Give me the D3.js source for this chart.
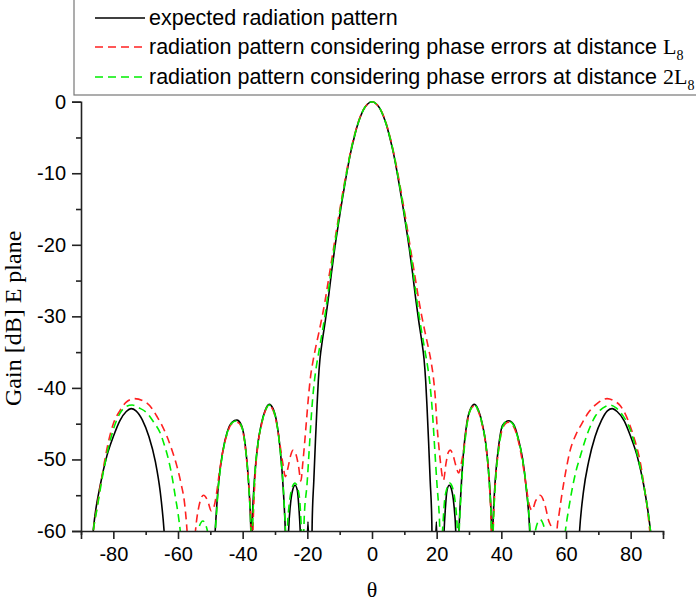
<!DOCTYPE html>
<html>
<head>
<meta charset="utf-8">
<script src="https://cdn.jsdelivr.net/npm/d3@7"></script>
<style>
  html, body { margin: 0; padding: 0; background: #fff; }
  svg { display: block; }
</style>
</head>
<body>
<svg id="chart" width="696" height="601"></svg>
<script>
// ---------------- data ----------------
const xTicksMajor = [-80, -60, -40, -20, 0, 20, 40, 60, 80];
const xTicksMinor = [-90, -70, -50, -30, -10, 10, 30, 50, 70, 90];
const yTicksMajor = [-60, -50, -40, -30, -20, -10, 0];
const yTicksMinor = [-55, -45, -35, -25, -15, -5];

const seriesNames = [
  "expected radiation pattern",
  "radiation pattern considering phase errors at distance ",
  "radiation pattern considering phase errors at distance "
];
const seriesSuffix = ["", "L", "2L"];

// [theta (deg), gain (dB)]
const expected = [
  [-87,-64],[-86,-59],[-84,-53.5],[-82,-49.5],[-80,-46.8],[-78,-44.6],[-76,-43.3],[-74.5,-42.9],[-73,-43.2],[-71,-44.5],
  [-69,-46.8],[-67,-50.3],[-65.5,-54.5],[-64.3,-60],[-63.5,-66],[-56,-85],
  [-49.2,-66],[-48.5,-60],[-47.5,-53.5],[-46.2,-49],[-44.8,-46.2],[-43.3,-44.8],[-41.8,-44.5],[-40.4,-45.2],[-39.2,-48],
  [-38.2,-53],[-37.6,-58],[-37.3,-62],[-36.9,-57],[-36.3,-52.5],[-35.3,-47.8],[-34.2,-45],[-33,-43.1],[-31.8,-42.3],
  [-30.6,-42.9],[-29.4,-45],[-28.3,-49],[-27.4,-54.5],[-26.8,-60],[-26.3,-68],[-25.8,-60],[-25.2,-56.2],[-24.5,-54.2],
  [-23.8,-53.6],[-23.1,-54.3],[-22.6,-56.8],[-22.2,-60],[-21.7,-68],[-20.4,-66],[-19.8,-58.7],[-19.3,-66],[-18.9,-72],
  [-18.5,-58.8],[-18,-53],[-17.5,-47.5],[-17,-42.5],[-16.6,-39],[-16.1,-36],[-15.3,-33.2],[-14.4,-30.5],[-13.5,-27.5],
  [-12.5,-23.8],[-11.5,-20.4],[-10.5,-17.4],[-9.5,-14.5],[-8.5,-11.8],[-7.5,-9.2],[-6.5,-6.9],[-5.5,-5],[-4.5,-3.3],
  [-3.5,-2],[-2.5,-1],[-1.5,-0.4],[-0.7,-0.1],[0,0],
  [0.7,-0.1],[1.5,-0.4],[2.5,-1],[3.5,-2],[4.5,-3.3],[5.5,-5],[6.5,-6.9],[7.5,-9.2],[8.5,-11.8],[9.5,-14.5],[10.5,-17.4],
  [11.5,-20.4],[12.5,-23.8],[13.5,-27.5],[14.4,-30.5],[15.3,-33.2],[16.1,-36],[16.6,-39],[17,-42.5],[17.5,-47.5],[18,-53],
  [18.5,-58.8],[18.9,-72],[19.4,-66],[19.9,-58.7],
  [20.4,-66],[21.8,-68],[22.3,-60],[22.7,-56.8],[23.2,-54.3],[23.9,-53.6],[24.6,-54.2],[25.3,-56.2],[25.9,-60],[26.4,-68],
  [26.9,-60],[27.5,-54.5],[28.3,-49],[29.3,-45],[30.5,-42.9],[31.7,-42.3],[32.9,-43.1],[34.1,-45],[35.2,-47.8],[36.2,-52.5],
  [36.8,-57],[37.2,-62],[37.5,-58],[38.1,-53],[39.2,-48],[40.4,-45.2],[42.3,-44.6],[43.8,-45.1],[45.2,-47],[46.6,-50],
  [47.7,-54],[48.6,-58.5],[49,-62],[56,-85],[63.5,-66],[64.2,-60],[65.4,-54.5],[67,-50.3],[69,-46.8],[71,-44.5],[72.8,-43.2],
  [74.3,-42.9],[75.8,-43.3],[78,-44.6],[80,-46.8],[82,-49.5],[84,-53.5],[86,-59.5],[87,-64]
];

const errorsL8 = [
  [-87,-63.5],[-86.2,-60],[-85,-56.5],[-83,-51],[-81.5,-47.5],[-80,-45],[-78,-43.2],[-76,-42],[-73.5,-41.5],[-70,-42],
  [-68,-42.9],[-66.5,-44],[-65,-45.2],[-63.4,-46.8],[-61.8,-48.8],[-60.3,-51],[-59,-53.5],[-58,-56],[-57.2,-60],[-56.3,-68],
  [-55.4,-65],[-54.6,-60],[-53.5,-56.5],[-52.1,-55],[-50.8,-55.8],[-49.7,-57.2],[-48.8,-56.5],[-48,-54.5],[-47.2,-51.8],
  [-46.2,-49],[-44.8,-46.4],[-43.3,-45],[-41.8,-44.8],[-40.4,-45.4],[-39.2,-48.2],[-38.2,-53.2],[-37.5,-58],[-37.1,-64],
  [-36.7,-58],[-36.2,-52.8],[-35.3,-48],[-34.2,-45.2],[-33,-43.2],[-31.8,-42.5],[-30.6,-43.1],[-29.5,-45],[-28.5,-47.8],
  [-27.6,-50.5],[-26.8,-52.4],[-26,-51.2],[-25.2,-49.5],[-24.4,-48.7],[-23.5,-49.3],[-22.7,-51],[-22,-53],[-21.4,-50.5],
  [-20.8,-47.5],[-20.2,-44.2],[-19.6,-41],[-19,-38.4],[-18.3,-36.4],[-17.4,-34.3],[-16.4,-32.2],[-15.4,-30],[-14.5,-27.8],
  [-13.5,-25],[-12.5,-22.2],[-11.5,-19.4],[-10.5,-16.6],[-9.5,-13.9],[-8.5,-11.3],[-7.5,-8.9],[-6.5,-6.7],[-5.5,-4.8],
  [-4.5,-3.2],[-3.5,-1.9],[-2.5,-1],[-1.5,-0.4],[-0.7,-0.1],[0,0],
  [0.7,-0.1],[1.5,-0.4],[2.5,-1],[3.5,-1.9],[4.5,-3.2],[5.5,-4.8],[6.5,-6.7],[7.5,-8.9],[8.5,-11.3],[9.5,-13.9],[10.5,-16.6],
  [11.5,-19.4],[12.5,-22.2],[13.5,-25],[14.5,-27.8],[15.4,-30],[16.4,-32.2],[17.4,-34.3],[18.3,-36.4],[19,-38.6],[19.6,-41.5],
  [20.1,-45.2],[20.6,-47.8],[21.1,-50.1],[22.1,-52.9],
  [22.9,-50.5],[23.6,-49],[24.2,-48.7],[25,-49.3],[25.9,-50.8],[26.8,-51.9],[27.6,-50.6],[28.4,-48.5],[29.3,-45.2],[30.5,-43],
  [31.7,-42.5],[32.9,-43.3],[34.1,-45.2],[35.2,-48],[36.2,-52.8],[36.8,-58],[37.2,-64],[37.6,-58],[38.2,-53],[39.3,-48.2],
  [40.5,-45.5],[42.2,-44.8],[43.9,-45.5],[45.3,-47.5],[46.6,-50.5],[47.7,-53.8],[48.6,-56.3],[49.5,-57.1],[50.6,-55.8],
  [52,-55],[53.4,-56.2],[54.6,-58.5],[55.7,-60],[56.5,-68],[57.2,-60],[57.9,-57.5],[58.8,-54.7],[60,-51.5],[61.3,-48.7],
  [63,-46.6],[64.9,-45],[67,-43.4],[69.6,-42.2],[72.7,-41.5],[74.8,-41.8],[76.8,-42.5],[78.5,-43.8],[79.9,-45.4],[81.2,-47.2],
  [82.4,-49.2],[83.3,-51.2],[84,-53.3],[85,-56.3],[85.8,-59.5],[86.5,-63]
];

const errors2L8 = [
  [-87,-63.5],[-86.2,-60],[-85,-56.8],[-83,-51.5],[-81.5,-48.3],[-80,-45.8],[-78,-43.6],[-76,-42.6],[-74.2,-42.4],[-72,-42.8],
  [-69.6,-43.5],[-67.5,-44.8],[-65.5,-46.3],[-64.2,-48],[-62.9,-50.1],[-61.8,-52.5],[-60.8,-55.3],[-60,-57.5],[-59.3,-60],
  [-58.5,-64],[-56.5,-72],[-54.6,-64],[-53.8,-60],[-52.3,-58.6],[-50.9,-60],[-50,-63],[-49.2,-62],[-48.5,-60],[-47.5,-53.8],
  [-46.2,-49.2],[-44.8,-46.3],[-43.3,-44.9],[-41.8,-44.6],[-40.4,-45.3],[-39.2,-48.1],[-38.2,-53.1],[-37.6,-58],[-37.2,-63],
  [-36.8,-57.5],[-36.3,-52.6],[-35.3,-47.9],[-34.2,-45.1],[-33,-43.2],[-31.8,-42.4],[-30.6,-43],[-29.4,-45.1],[-28.3,-49.2],
  [-27.4,-54.2],[-26.9,-58.5],[-26.5,-62],[-26,-58.2],[-25.4,-55.5],[-24.6,-53.8],[-23.8,-53.3],[-23,-54],[-22.3,-56],
  [-21.8,-60],[-21.4,-63],[-20.9,-57.5],[-20.1,-53.5],[-19.4,-48.5],[-18.7,-43.5],[-18,-39.8],[-17.2,-37],[-16.3,-34.6],
  [-15.3,-32],[-14.4,-29.4],[-13.5,-26.5],[-12.5,-23],[-11.5,-19.9],[-10.5,-17],[-9.5,-14.2],[-8.5,-11.6],[-7.5,-9.1],
  [-6.5,-6.8],[-5.5,-4.9],[-4.5,-3.3],[-3.5,-2],[-2.5,-1],[-1.5,-0.4],[-0.7,-0.1],[0,0],
  [0.7,-0.1],[1.5,-0.4],[2.5,-1],[3.5,-2],[4.5,-3.3],[5.5,-4.9],[6.5,-6.8],[7.5,-9.1],[8.5,-11.6],[9.5,-14.2],[10.5,-17],
  [11.5,-19.9],[12.5,-23],[13.5,-26.5],[14.4,-29.4],[15.3,-32],[16.3,-34.6],[17.2,-37],[18,-39.8],[18.7,-43.5],[19.4,-48.5],
  [20.1,-53.5],[20.8,-57.8],
  [21.3,-63],[21.8,-60],[22.4,-56],[23.2,-54],[24,-53.3],[24.8,-53.8],[25.6,-55.5],[26.2,-58.2],[26.7,-62],[27.1,-58.5],
  [27.6,-54.2],[28.4,-49.2],[29.4,-45.1],[30.5,-43],[31.7,-42.4],[32.9,-43.2],[34.1,-45.1],[35.2,-47.9],[36.2,-52.6],
  [36.8,-57.5],[37.2,-63],[37.6,-58],[38.2,-53.1],[39.3,-48.1],[40.5,-45.3],[42,-44.6],[43.5,-45],[45,-46.8],[46.5,-49.8],
  [47.7,-53.8],[48.5,-57.5],[48.9,-60],[49.5,-63],[50.5,-60],[52,-58.4],[53.5,-60],[54.5,-64],[56.8,-72],[58.9,-64],
  [59.8,-60],[60.8,-57],[61.8,-54.4],[63,-51.8],[64.4,-49.6],[66,-47.2],[67.5,-45.4],[69,-44],[70.6,-43.1],[72.2,-42.6],
  [73.7,-42.4],[75.5,-42.8],[77.5,-43.8],[80,-46],[82,-49.2],[84,-53.5],[86,-59.5],[86.8,-63]
];

// ---------------- chart ----------------
const svg = d3.select("#chart");
const SANS = "'Liberation Sans', Arial, Helvetica, sans-serif";
const SERIF = "'Liberation Serif', 'Times New Roman', Times, serif";

const x = d3.scaleLinear().domain([-90, 90]).range([81, 663]);
const y = d3.scaleLinear().domain([-60, 0]).range([531, 101.7]);

svg.append("defs").append("clipPath").attr("id", "plotclip")
  .append("rect").attr("x", 70).attr("y", 96).attr("width", 610).attr("height", 531 - 96);

const line = d3.line().x(d => x(d[0])).y(d => y(d[1])).curve(d3.curveMonotoneX);

const styles = [
  { data: expected, color: "#000000", dash: null },
  { data: errorsL8, color: "#ff2020", dash: "8,5" },
  { data: errors2L8, color: "#00ee00", dash: "8,5" }
];

const plot = svg.append("g").attr("clip-path", "url(#plotclip)");
styles.forEach(s => {
  plot.append("path").datum(s.data)
    .attr("d", line)
    .attr("fill", "none")
    .attr("stroke", s.color)
    .attr("stroke-width", 1.6)
    .attr("stroke-dasharray", s.dash);
});

// axes
const axisColor = "#222";
const fmt = d => String(d);
const xAxis = svg.append("g").attr("transform", `translate(0,${y(-60)})`)
  .call(d3.axisBottom(x).tickValues(xTicksMajor).tickSize(8).tickPadding(8).tickFormat(fmt));
const xMinor = svg.append("g").attr("transform", `translate(0,${y(-60)})`)
  .call(d3.axisBottom(x).tickValues(xTicksMinor).tickSize(4).tickFormat(""));
const yAxis = svg.append("g").attr("transform", `translate(${x(-90)},0)`)
  .call(d3.axisLeft(y).tickValues(yTicksMajor).tickSize(9).tickPadding(6).tickFormat(fmt));
const yMinor = svg.append("g").attr("transform", `translate(${x(-90)},0)`)
  .call(d3.axisLeft(y).tickValues(yTicksMinor).tickSize(5).tickFormat(""));

[xAxis, xMinor, yAxis, yMinor].forEach(g => {
  g.select(".domain").attr("stroke", axisColor).attr("stroke-width", 1.6);
  g.selectAll(".tick line").attr("stroke", axisColor).attr("stroke-width", 1.6);
  g.selectAll(".tick text").attr("fill", "#000").style("font-family", SANS).style("font-size", "20px");
});
xMinor.select(".domain").remove();
yMinor.select(".domain").remove();

// axis titles
svg.append("text")
  .attr("x", x(0)).attr("y", 597)
  .attr("text-anchor", "middle")
  .style("font-family", SERIF).style("font-size", "22px")
  .text("θ");

svg.append("text")
  .attr("transform", `translate(21,${y(-30) + 2}) rotate(-90)`)
  .attr("text-anchor", "middle")
  .style("font-family", SERIF).style("font-size", "24px")
  .text("Gain [dB] E plane");

// legend
const lg = svg.append("g");
lg.append("rect").attr("x", 74).attr("y", -2).attr("width", 640).attr("height", 97)
  .attr("fill", "#fff").attr("stroke", "#777").attr("stroke-width", 1.2);

const legendY = [18, 47, 77];
styles.forEach((s, i) => {
  lg.append("line")
    .attr("x1", 95).attr("x2", 145).attr("y1", legendY[i]).attr("y2", legendY[i])
    .attr("stroke", s.color).attr("stroke-width", 1.6).attr("stroke-dasharray", s.dash);
  const t = lg.append("text")
    .attr("x", 149).attr("y", legendY[i] + 7)
    .style("font-family", SANS).style("font-size", "21.5px").attr("fill", "#000");
  t.append("tspan").text(seriesNames[i]);
  if (seriesSuffix[i]) {
    t.append("tspan").style("font-family", SERIF).style("font-size", "22px").text(seriesSuffix[i]);
    t.append("tspan").style("font-family", SERIF).style("font-size", "14px").attr("dy", 6).text("8");
  }
});
</script>
</body>
</html>
